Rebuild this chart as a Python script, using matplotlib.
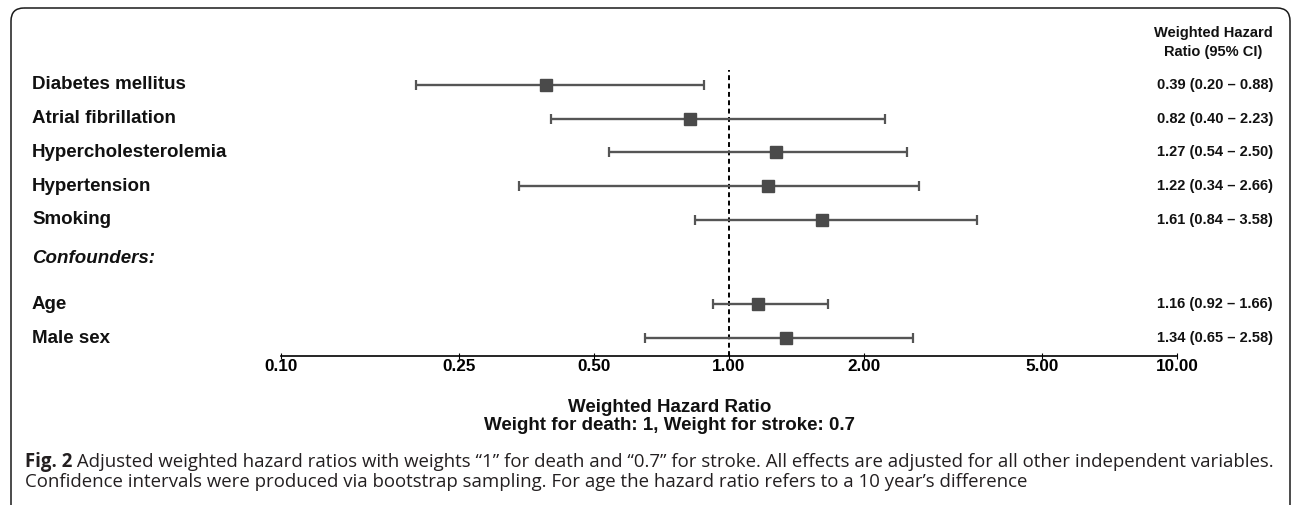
import matplotlib.pyplot as plt
from matplotlib.patches import FancyBboxPatch
from matplotlib.ticker import NullLocator
from matplotlib.transforms import blended_transform_factory

labels = ["Diabetes mellitus", "Atrial fibrillation", "Hypercholesterolemia",
          "Hypertension", "Smoking", "Age", "Male sex"]
hr = [0.39, 0.82, 1.27, 1.22, 1.61, 1.16, 1.34]
lower = [0.20, 0.40, 0.54, 0.34, 0.84, 0.92, 0.65]
upper = [0.88, 2.23, 2.50, 2.66, 3.58, 1.66, 2.58]
rows = [0, 1, 2, 3, 4, 6.5, 7.5]
group_label = "Confounders:"
group_row = 5.15
ticks = [0.10, 0.25, 0.50, 1.00, 2.00, 5.00, 10.00]

caption_bold = "Fig. 2"
caption_1 = (" Adjusted weighted hazard ratios with weights \u201c1\u201d for death and \u201c0.7\u201d "
             "for stroke. All effects are adjusted for all other independent variables.")
caption_2 = ("Confidence intervals were produced via bootstrap sampling. For age the hazard "
             "ratio refers to a 10 year\u2019s difference")

W, H = 1292, 505
plt.rcParams["font.family"] = ["Liberation Sans", "DejaVu Sans"]

fig = plt.figure(figsize=(W / 100, H / 100), dpi=100)

# pixel-space background axes for frame and caption
bg = fig.add_axes([0, 0, 1, 1])
bg.set_xlim(0, W)
bg.set_ylim(H, 0)
bg.axis("off")
frame = FancyBboxPatch((11, 8), 1279, 560, boxstyle="round,pad=0,rounding_size=13",
                       fc="none", ec="#1a1a1a", lw=1.1, clip_on=False)
bg.add_patch(frame)

ax = fig.add_axes([281 / W, 1 - 356 / H, 896 / W, 286 / H])
ax.set_xscale("log")
ax.set_xlim(0.1, 10)
ax.set_ylim(8.03, -0.44)

err_lo = [h - l for h, l in zip(hr, lower)]
err_hi = [u - h for u, h in zip(upper, hr)]
ax.errorbar(hr, rows, xerr=[err_lo, err_hi], fmt="s", color="#4a4a4a", ms=9,
            ecolor="#555555", elinewidth=1.7, capsize=3.8, capthick=1.6, zorder=3)
ax.axvline(1, color="black", lw=1.4, linestyle=(0, (2.5, 1.8)), zorder=2)

for s in ["left", "top", "right"]:
    ax.spines[s].set_visible(False)
ax.spines["bottom"].set_linewidth(1.2)
ax.set_yticks([])
ax.set_xticks(ticks)
ax.set_xticklabels([f"{t:.2f}" for t in ticks], fontsize=12.3, fontweight="bold")
ax.xaxis.set_minor_locator(NullLocator())
ax.tick_params(axis="x", direction="inout", length=4, width=0.8, pad=0.5)

trans = blended_transform_factory(fig.transFigure, ax.transData)
for lab, r, h, l, u in zip(labels, rows, hr, lower, upper):
    fig.text(32 / W, r, lab, transform=trans, va="center", ha="left",
             fontsize=13.5, fontweight="bold", color="#111111")
    fig.text(1157 / W, r, f"{h:.2f} ({l:.2f} \u2013 {u:.2f})", transform=trans,
             va="center", ha="left", fontsize=10.5, fontweight="bold", color="#111111")
fig.text(32 / W, group_row, group_label, transform=trans, va="center", ha="left",
         fontsize=13.5, fontweight="bold", fontstyle="italic", color="#111111")

bg.text(1213, 42.5, "Weighted Hazard\nRatio (95% CI)", ha="center", va="center",
        fontsize=10.5, fontweight="bold", linespacing=1.45, color="#111111")

bg.text(670, 408, "Weighted Hazard Ratio", ha="center", va="center",
        fontsize=13.5, fontweight="bold", color="#111111")
bg.text(670, 426, "Weight for death: 1, Weight for stroke: 0.7", ha="center", va="center",
        fontsize=13.5, fontweight="bold", color="#111111")

cap_font = ["Open Sans", "DejaVu Sans"]
fb = bg.text(25, 462, caption_bold, ha="left", va="center", fontsize=13.4,
             fontweight="bold", family=cap_font, color="#231f20")
bg.annotate(caption_1, xy=(1, 0.5), xycoords=fb, ha="left", va="center",
            fontsize=13.4, family=cap_font, color="#231f20")
bg.text(25, 482, caption_2, ha="left", va="center", fontsize=13.4,
        family=cap_font, color="#231f20")

fig.savefig("out.png", dpi=100)
